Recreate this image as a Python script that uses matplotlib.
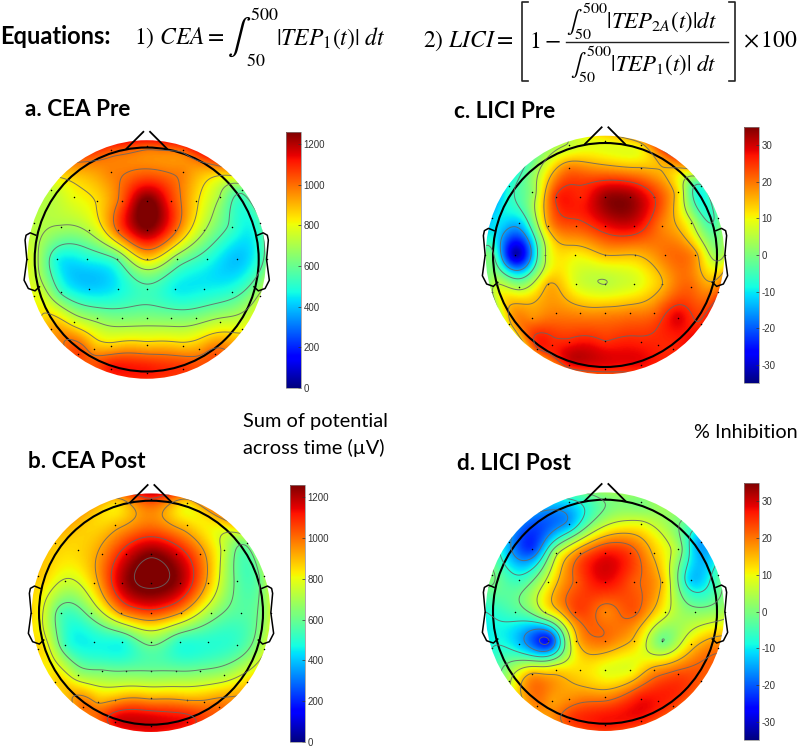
import numpy as np
import matplotlib
matplotlib.use('Agg')
import matplotlib.pyplot as plt
from matplotlib.lines import Line2D
from matplotlib.patches import Circle

plt.rcParams['font.family'] = ['Lato', 'DejaVu Sans']
plt.rcParams['mathtext.fontset'] = 'stix'
plt.rcParams['axes.unicode_minus'] = False

# electrode layout, rows from nose to back of the head
elec_x = [-.32, 0, .32,
          -.32, .32,
          -.854, -.65, -.44, -.22, 0, .22, .44, .65, .854,
          -1.01, -.765, -.512, -.256, 0, .256, .512, .765, 1.01,
          -1.07, -.804, -.536, -.268, 0, .268, .536, .804, 1.07,
          -1.01, -.765, -.512, -.256, 0, .256, .512, .765, 1.01,
          -.854, -.65, -.44, -.22, 0, .22, .44, .65, .854,
          -.61, -.47, -.32, 0, .32, .47, .61,
          -.32, 0, .32]
elec_y = [.98, 1.015, .98,
          .78, .78,
          .62, .56, .52, .52, .52, .52, .52, .56, .62,
          .327, .286, .262, .262, .262, .262, .262, .286, .327,
          0, 0, 0, 0, 0, 0, 0, 0, 0,
          -.327, -.286, -.262, -.262, -.262, -.262, -.262, -.286, -.327,
          -.62, -.56, -.52, -.52, -.52, -.52, -.52, -.56, -.62,
          -.84, -.80, -.775, -.765, -.775, -.80, -.84,
          -.98, -1.015, -.98]

cea_pre = [1040, 1030, 1020,
           970, 970,
           740, 800, 850, 1030, 1280, 1080, 860, 700, 600,
           720, 690, 720, 1010, 1240, 1010, 710, 530, 540,
           780, 480, 470, 560, 850, 640, 500, 400, 600,
           800, 540, 420, 460, 540, 460, 460, 510, 720,
           920, 790, 660, 630, 640, 630, 640, 740, 810,
           1060, 930, 880, 880, 880, 930, 1030,
           1120, 1120, 1080]
cea_post = [860, 1080, 860,
            900, 880,
            880, 860, 960, 1150, 1260, 1170, 980, 740, 640,
            880, 760, 880, 1200, 1300, 1210, 900, 590, 680,
            850, 560, 660, 950, 1050, 930, 680, 570, 760,
            860, 530, 470, 490, 640, 510, 500, 530, 750,
            860, 700, 620, 610, 610, 610, 620, 700, 860,
            1000, 920, 920, 920, 920, 950, 1000,
            1150, 1170, 1130]
lici_pre = [6, 10, 13,
            19, 15,
            -8, 2, 25, 26, 33, 33, 25, 12, -6,
            -12, -12, 16, 23, 28, 29, 19, 7, -2,
            0, -32, 5, 11, 15, 15, 20, 17, 6,
            5, 3, 15, 8, 5.5, 8, 15, 21, 22,
            13, 18, 19, 18, 18, 19, 21, 29, 26,
            24, 26, 26, 25, 26, 26, 26,
            28, 27, 28]
lici_post = [-10, 0, 0,
             -14, 9,
             -15, -22, 5, 20, 27, 24, 14, 3, -15,
             0, -6, 9, 22, 28, 22, 14, -12, -4,
             -8, -4, 8, 23, 19, 22, 9, 1, 4,
             -8, -13, -25, 14, 20, 14, -1, 12, 20,
             6, 16, 12, 12, 9, 9, 17, 23, 22,
             19, 17, 18, 19, 27, 27, 24,
             24, 27, 26]

cea_levels_pre = [560, 700, 840, 990]
cea_levels_post = [610, 770, 930, 1090, 1280]
lici_levels_pre = [-15, -5, 5.5, 15, 25]
lici_levels_post = [-24, -16, -8, -1, 7, 15, 21]

cea_ticks = [0, 200, 400, 600, 800, 1000, 1200]
lici_ticks = [-30, -20, -10, 0, 10, 20, 30]

W, H = 800, 747
R = 112  # pixels per head radius
DISC = 1.065


def biharmonic(x, y, v, gx, gy):
    # same surface spline topoplot uses
    x, y, v = np.array(x), np.array(y), np.array(v, dtype=float)
    d = np.hypot(x[:, None] - x[None, :], y[:, None] - y[None, :])
    g = np.where(d > 0, d**2 * (np.log(d + 1e-12) - 1), 0)
    w = np.linalg.solve(g, v)
    dd = np.hypot(gx[..., None] - x, gy[..., None] - y)
    gg = np.where(dd > 0, dd**2 * (np.log(dd + 1e-12) - 1), 0)
    return gg @ w


def head(cx, cy, values, levels, vmin, vmax):
    lim = 1.2
    ax = fig.add_axes([(cx - lim*R)/W, 1 - (cy + lim*R)/H, 2*lim*R/W, 2*lim*R/H])
    ax.set_xlim(-lim, lim)
    ax.set_ylim(-lim, lim)
    ax.axis('off')

    g = np.linspace(-DISC, DISC, 300)
    gx, gy = np.meshgrid(g, g)
    z = biharmonic(elec_x, elec_y, values, gx, gy)

    im = ax.imshow(z, extent=(-DISC, DISC, -DISC, DISC), origin='lower', cmap='jet',
                   vmin=vmin, vmax=vmax, interpolation='bilinear')
    disc = Circle((0, 0), DISC, transform=ax.transData)
    im.set_clip_path(disc)
    cs = ax.contour(gx, gy, z, levels=levels, colors='#666666', linewidths=0.7,
                    linestyles='solid', alpha=0.85)
    cs.set_clip_path(disc)
    ax.scatter(elec_x, elec_y, s=1.2, c='k', linewidths=0)

    ax.add_patch(Circle((0, 0), 1, fill=False, ec='k', lw=1.5))
    ax.plot([-.18, -.03], [.99, 1.14], 'k', lw=1.3)
    ax.plot([.18, .03], [.99, 1.14], 'k', lw=1.3)
    ear_x = np.array([-.99, -1.04, -1.077, -1.086, -1.07, -1.095, -1.057, -.997, -.958])
    ear_y = np.array([.217, .238, .217, .173, 0, -.185, -.259, -.28, -.244])
    ax.plot(ear_x, ear_y, 'k', lw=1.1)
    ax.plot(-ear_x, ear_y, 'k', lw=1.1)
    return im


def colorbar(im, x0, x1, y0, y1, ticks):
    cax = fig.add_axes([x0/W, 1 - y1/H, (x1 - x0)/W, (y1 - y0)/H])
    cb = fig.colorbar(im, cax=cax, ticks=ticks)
    cb.ax.tick_params(direction='in', length=2, width=0.5, pad=2, labelsize=7,
                      labelcolor='#333333', color='#333333')
    for t in cb.ax.get_yticklabels():
        t.set_family('Liberation Sans')
    cb.outline.set_linewidth(0.5)
    cb.outline.set_edgecolor('#888888')


def label(x, y, s, **kw):
    fig.text(x/W, 1 - y/H, s, va='center', **kw)


def stroke(xs, ys, lw=1.0):
    fig.add_artist(Line2D(np.array(xs)/W, 1 - np.array(ys)/H, color='#222222', lw=lw))


fig = plt.figure(figsize=(W/100, H/100), dpi=100)

im = head(146.7, 259.5, cea_pre, cea_levels_pre, 0, 1260)
colorbar(im, 286, 301, 132, 388, cea_ticks)
im = head(151, 612.7, cea_post, cea_levels_post, 0, 1260)
colorbar(im, 290, 305, 485, 742, cea_ticks)
im = head(605, 255, lici_pre, lici_levels_pre, -35, 35)
colorbar(im, 744, 759, 127, 383, lici_ticks)
im = head(605, 611.7, lici_post, lici_levels_post, -35, 35)
colorbar(im, 744, 759, 483, 740, lici_ticks)

label(0, 37, 'Equations:', fontsize=17, fontweight='bold')

# equation 1
label(134, 38, r'$\mathrm{1)}\ CEA=$', fontsize=17)
label(227, 37, r'$\int$', fontsize=25)
label(250, 14, r'$\mathrm{500}$', fontsize=13)
label(246, 61, r'$\mathrm{50}$', fontsize=13)
label(276, 38, r'$|TEP_1(t)|\ dt$', fontsize=17)

# equation 2
label(423, 41, r'$\mathrm{2)}\ LICI=$', fontsize=17)
stroke([528, 522, 522, 528], [2, 2, 81, 81], lw=1.2)
stroke([729, 735, 735, 729], [2, 2, 81, 81], lw=1.2)
label(529, 41, r'$\mathrm{1}-$', fontsize=17)
stroke([566, 728], [41.7, 41.7], lw=1.0)
label(566, 21, r'$\int_{50}^{500}|TEP_{2A}(t)|dt$', fontsize=16.5)
label(570, 64, r'$\int_{50}^{500}|TEP_1(t)|\ dt$', fontsize=16.5)
label(743, 41, r'$\times\,\mathrm{100}$', fontsize=17)

label(25, 110, 'a. CEA Pre', fontsize=16.2, fontweight='bold')
label(28, 461, 'b. CEA Post', fontsize=16.2, fontweight='bold')
label(454, 111, 'c. LICI Pre', fontsize=16.2, fontweight='bold')
label(457, 463, 'd. LICI Post', fontsize=16.2, fontweight='bold')
label(243, 422, 'Sum of potential', fontsize=14.4)
label(243, 448, 'across time (µV)', fontsize=14.4)
label(694, 432, '% Inhibition', fontsize=14.3)

plt.savefig('out.png', dpi=100)
plt.close()
